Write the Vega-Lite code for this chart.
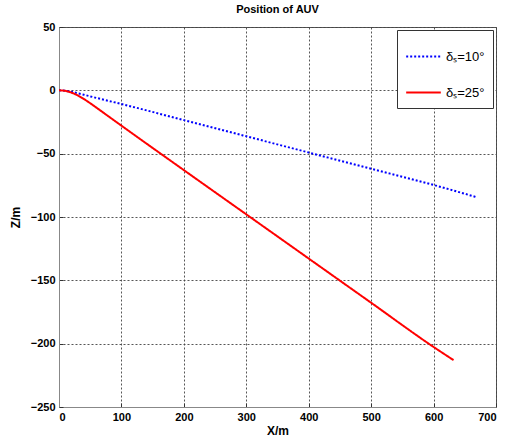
{
  "$schema": "https://vega.github.io/schema/vega-lite/v6.json",
  "width": 437,
  "height": 380,
  "autosize": {"type": "none"},
  "padding": {"left": 59, "top": 27, "right": 17, "bottom": 32},
  "background": "white",
  "title": {
    "text": "Position of AUV",
    "font": "Liberation Sans",
    "fontSize": 11,
    "fontWeight": "bold",
    "color": "black",
    "offset": 6
  },
  "config": {
    "view": {"stroke": "#555555", "strokeWidth": 1},
    "axis": {
      "labelFont": "Liberation Sans",
      "labelFontSize": 11,
      "labelFontWeight": "bold",
      "labelColor": "black",
      "titleFont": "Liberation Sans",
      "titleFontSize": 12,
      "titleFontWeight": "bold",
      "titleColor": "black",
      "domainColor": "#888888",
      "tickColor": "#333333",
      "tickSize": -4,
      "labelPadding": 8,
      "grid": true,
      "gridColor": "#444444",
      "gridDash": [2, 2],
      "gridOpacity": 0.9
    }
  },
  "data": {
    "values": [
      {"x": 0, "z": 0, "case": "δₛ=10°"},
      {"x": 10, "z": -0.3, "case": "δₛ=10°"},
      {"x": 20, "z": -1.1, "case": "δₛ=10°"},
      {"x": 30, "z": -2.3, "case": "δₛ=10°"},
      {"x": 40, "z": -3.5, "case": "δₛ=10°"},
      {"x": 60, "z": -6.0, "case": "δₛ=10°"},
      {"x": 80, "z": -8.4, "case": "δₛ=10°"},
      {"x": 100, "z": -10.8, "case": "δₛ=10°"},
      {"x": 200, "z": -23.5, "case": "δₛ=10°"},
      {"x": 300, "z": -36.3, "case": "δₛ=10°"},
      {"x": 400, "z": -49.1, "case": "δₛ=10°"},
      {"x": 500, "z": -61.9, "case": "δₛ=10°"},
      {"x": 600, "z": -74.7, "case": "δₛ=10°"},
      {"x": 670, "z": -84.5, "case": "δₛ=10°"},
      {"x": 0, "z": 0, "case": "δₛ=25°"},
      {"x": 5, "z": -0.1, "case": "δₛ=25°"},
      {"x": 10, "z": -0.4, "case": "δₛ=25°"},
      {"x": 15, "z": -1.0, "case": "δₛ=25°"},
      {"x": 20, "z": -1.8, "case": "δₛ=25°"},
      {"x": 30, "z": -4.0, "case": "δₛ=25°"},
      {"x": 40, "z": -6.9, "case": "δₛ=25°"},
      {"x": 50, "z": -10.2, "case": "δₛ=25°"},
      {"x": 60, "z": -13.7, "case": "δₛ=25°"},
      {"x": 80, "z": -20.8, "case": "δₛ=25°"},
      {"x": 100, "z": -27.9, "case": "δₛ=25°"},
      {"x": 200, "z": -63.0, "case": "δₛ=25°"},
      {"x": 300, "z": -97.9, "case": "δₛ=25°"},
      {"x": 400, "z": -132.8, "case": "δₛ=25°"},
      {"x": 500, "z": -167.7, "case": "δₛ=25°"},
      {"x": 600, "z": -202.6, "case": "δₛ=25°"},
      {"x": 632, "z": -213.0, "case": "δₛ=25°"}
    ]
  },
  "mark": {"type": "line", "strokeWidth": 2, "clip": true, "interpolate": "monotone"},
  "encoding": {
    "x": {
      "field": "x",
      "type": "quantitative",
      "title": "X/m",
      "scale": {"domain": [0, 700], "nice": false},
      "axis": {"values": [0, 100, 200, 300, 400, 500, 600, 700], "titlePadding": 3}
    },
    "y": {
      "field": "z",
      "type": "quantitative",
      "title": "Z/m",
      "scale": {"domain": [-250, 50], "nice": false},
      "axis": {"values": [-250, -200, -150, -100, -50, 0, 50], "titlePadding": 8}
    },
    "color": {
      "field": "case",
      "type": "nominal",
      "scale": {"domain": ["δₛ=10°", "δₛ=25°"], "range": ["#0000ff", "#ff0000"]},
      "legend": {
        "title": null,
        "orient": "top-right",
        "offset": 3,
        "padding": 8,
        "strokeColor": "#333333",
        "fillColor": "white",
        "symbolType": "stroke",
        "symbolSize": 1200,
        "symbolStrokeWidth": 2,
        "labelFont": "Liberation Sans",
        "labelFontSize": 13,
        "labelColor": "black",
        "rowPadding": 10
      }
    },
    "strokeDash": {
      "field": "case",
      "type": "nominal",
      "scale": {"domain": ["δₛ=10°", "δₛ=25°"], "range": [[2, 2], [1, 0]]},
      "legend": null
    }
  }
}
